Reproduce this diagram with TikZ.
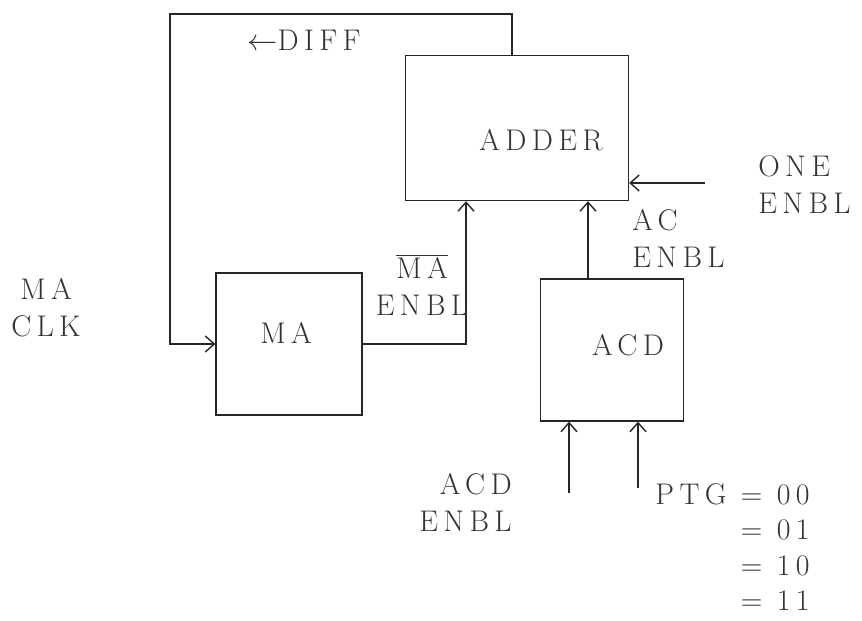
\documentclass[tikz,border=0pt]{standalone}
\usepackage{fontspec}
\newfontfamily\tagfont{lmroman17-regular.otf}[LetterSpace=18]
\usetikzlibrary{arrows.meta}
\tikzset{
  >={Straight Barb[length=1.8mm,width=3.2mm]},
  wire/.style={line width=0.8pt, black!85},
  box/.style={draw, line width=0.8pt, black!85, inner sep=0pt},
  tag/.style={black!80, inner sep=0pt,
    font=\fontsize{17}{21}\tagfont},
}
\begin{document}
\begin{tikzpicture}[x=0.02cm, y=-0.02cm]
            \useasboundingbox (0,0) rectangle (862,621);
            % Boxes
            \node [box, minimum width=4.46cm, minimum height=2.9cm] (adder) at (517,128) {};
            \node [box, minimum width=2.92cm, minimum height=2.84cm] (ma) at (289,344) {};
            \node [box, minimum width=2.86cm, minimum height=2.84cm] (acd) at (612,350) {};
            \node [tag] (addertxt) at (541,140) {ADDER};
            \node [tag] (matxt) at (286,333) {MA};
            \node [tag] (acdtxt) at (628,345) {ACD};
            % Feedback loop
            \coordinate (fbx) at (512,0);
            \coordinate (fbtop) at (170,14);
            \draw [wire, ->] (fbx |- adder.north) |- (fbtop) |- (ma.west);
            \node [tag] (diff) at (304,40) {$\leftarrow$DIFF};
            % Inputs of the adder
            \coordinate (mx) at (466,0);
            \draw [wire, ->] (ma.east) -| (mx |- adder.south);
            \coordinate (ax) at (588,0);
            \draw [wire, ->] (ax |- acd.north) -- (ax |- adder.south);
            \coordinate (onein) at (705,183);
            \draw [wire, ->] (onein) -- (onein -| adder.east);
            % Inputs of ACD
            \coordinate (acdin) at (569,493);
            \draw [wire, ->] (acdin) -- (acdin |- acd.south);
            \coordinate (ptgin) at (638,488);
            \draw [wire, ->] (ptgin) -- (ptgin |- acd.south);
            % Signal names
            \node [tag, align=center] (maclk) at (46,308) {MA\\CLK};
            \node [tag, align=center] (mabar) at (422,285) {$\overline{\mbox{MA}}$\\ENBL};
            \node [tag, align=left, anchor=west] (acenbl) at (632,238) {AC\\ENBL};
            \node [tag, align=left, anchor=west] (oneenbl) at (758,185) {ONE\\ENBL};
            \node [tag, align=right, anchor=east] (acdenbl) at (512,502) {ACD\\ENBL};
            \node [tag, align=right, anchor=east,
              font=\fontsize{17}{20}\tagfont] (ptg) at (810,547)
              {PTG = 00\\= 01\\= 10\\= 11};
\end{tikzpicture}
\end{document}
